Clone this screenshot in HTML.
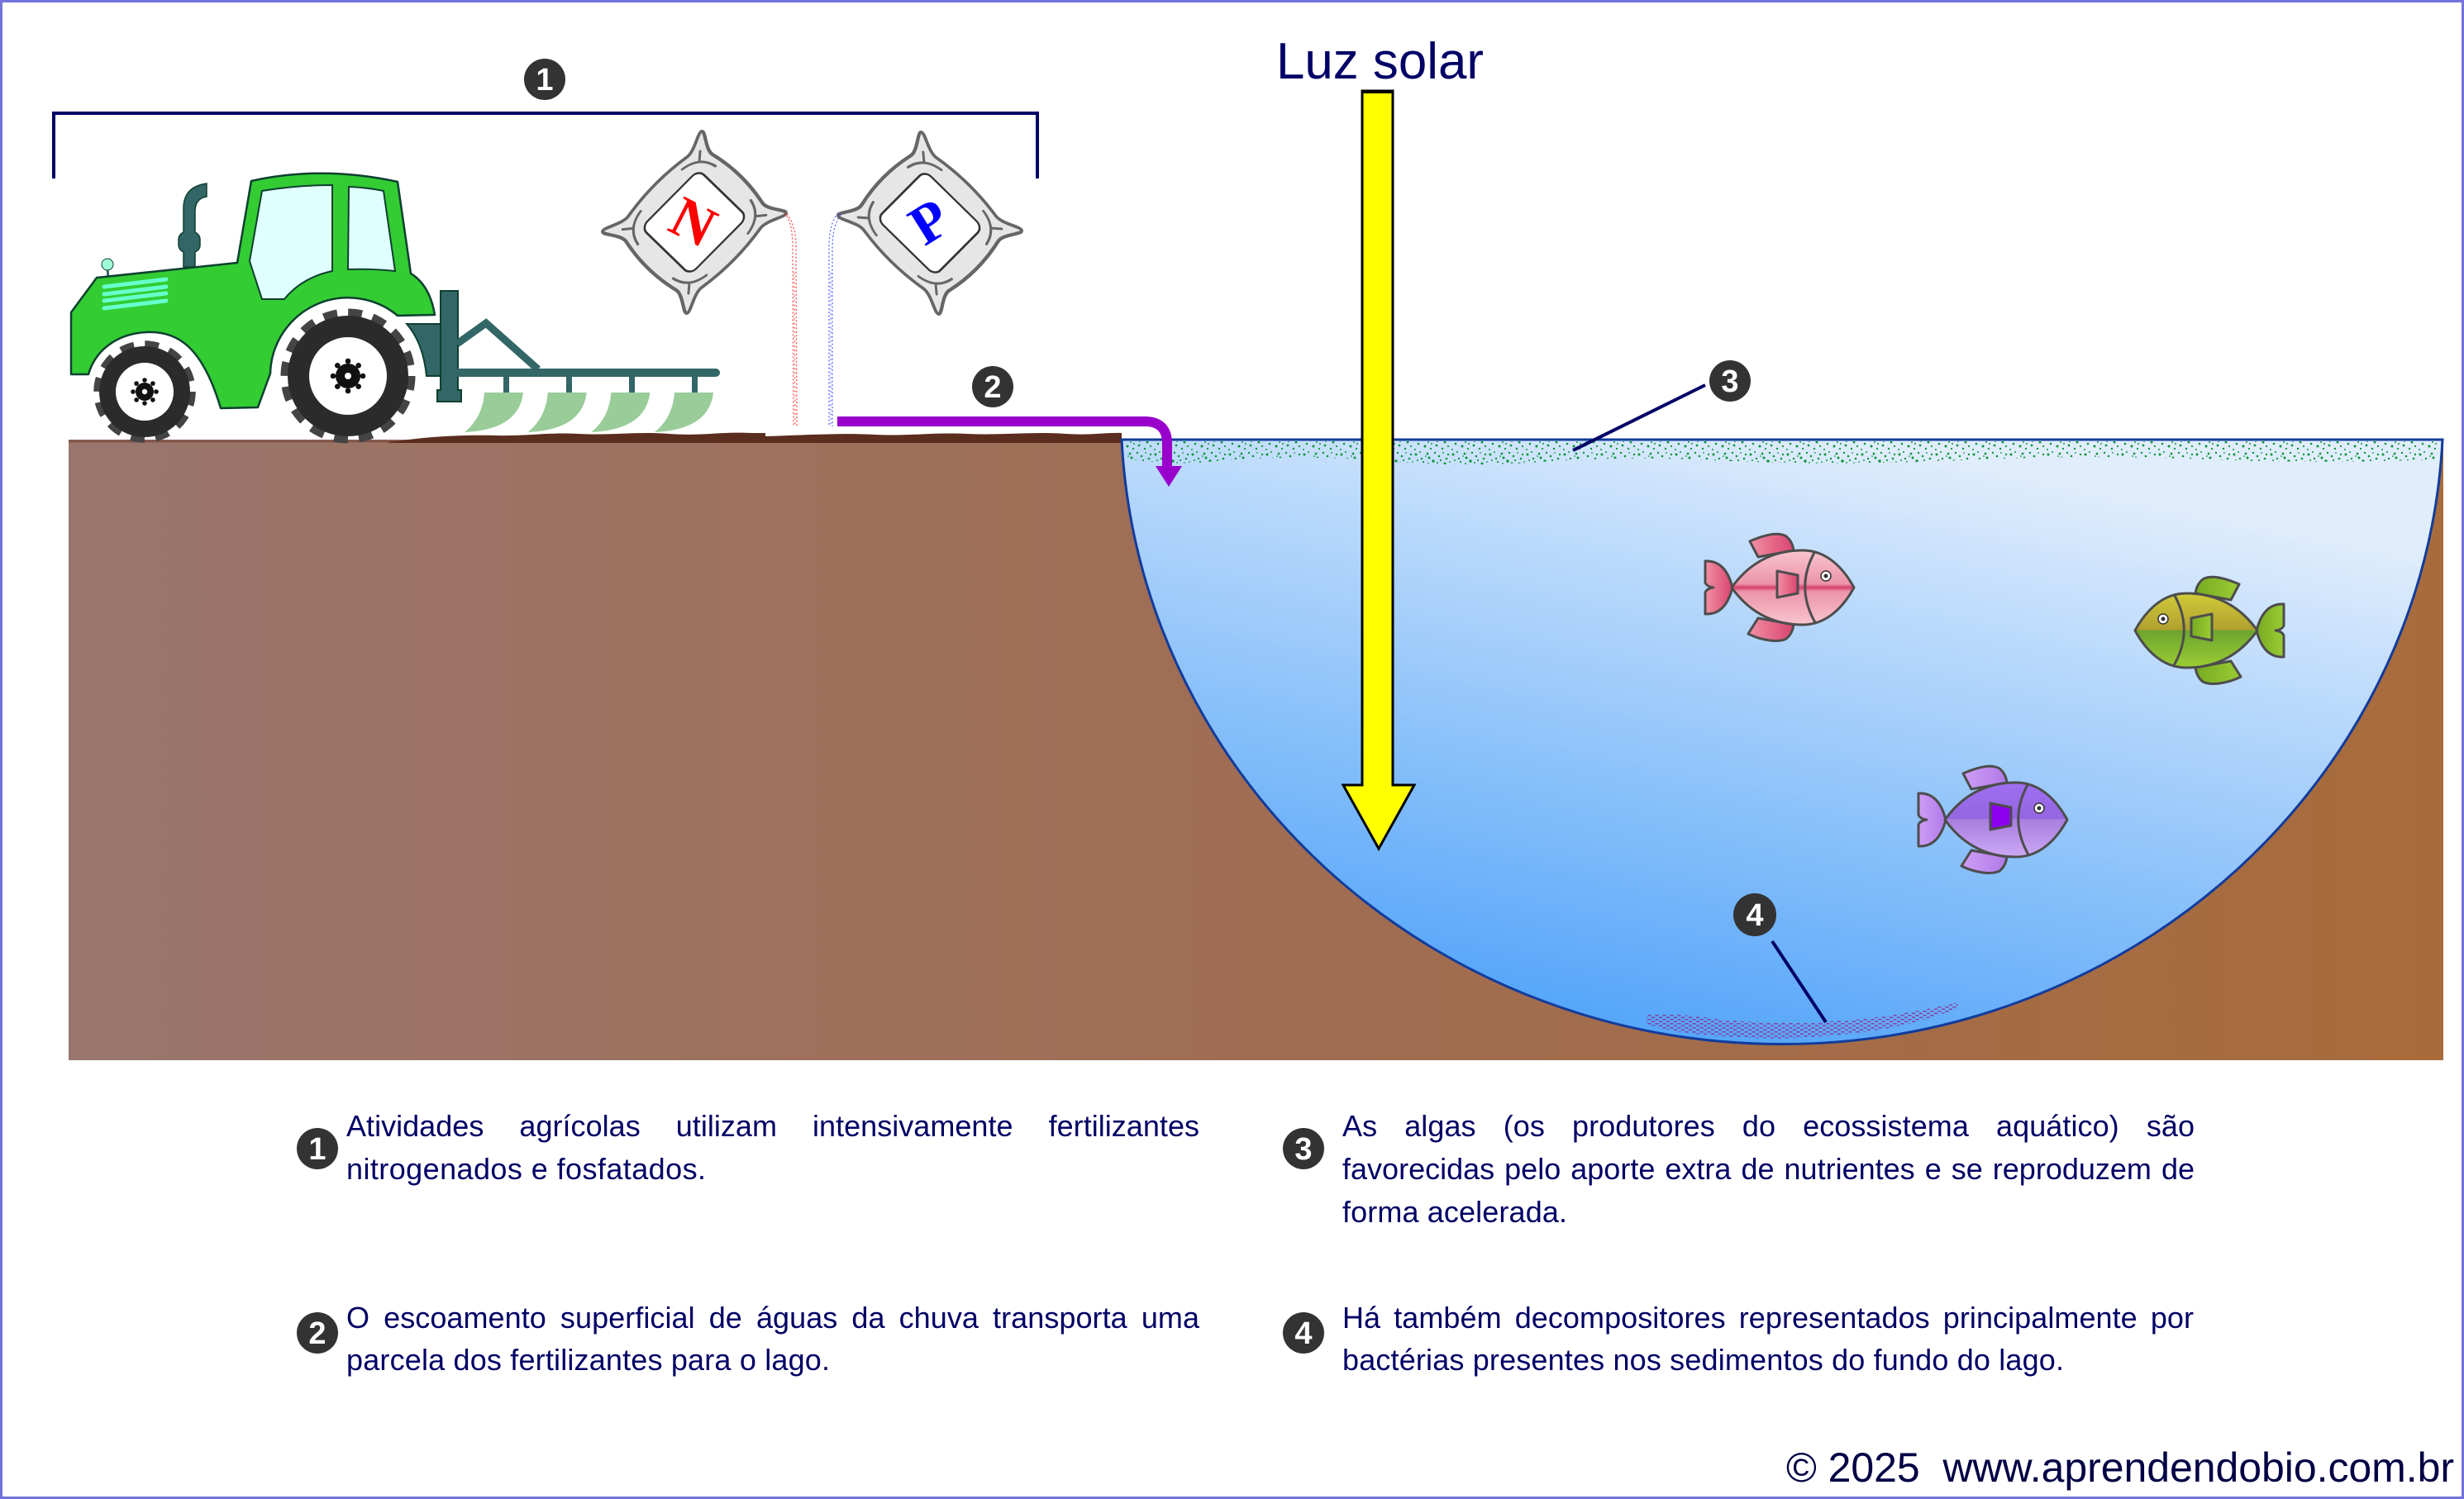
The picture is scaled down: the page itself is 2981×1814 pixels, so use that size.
<!DOCTYPE html>
<html><head><meta charset="utf-8">
<style>
html,body{margin:0;padding:0;background:#fff;}
body{width:2981px;height:1814px;overflow:hidden;}
svg{display:block;}
.t{font-family:"Liberation Sans",Arial,sans-serif;font-size:36px;fill:#000066;}
.num{font-family:"Liberation Sans",Arial,sans-serif;font-weight:bold;font-size:38px;fill:#fff;text-anchor:middle;}
</style></head>
<body>
<svg width="2981" height="1814" viewBox="0 0 2981 1814" xmlns="http://www.w3.org/2000/svg">
<defs>
  <linearGradient id="ground" x1="0" y1="0" x2="1" y2="0">
    <stop offset="0" stop-color="#9a766d"/>
    <stop offset="0.5" stop-color="#a06d53"/>
    <stop offset="1" stop-color="#a86c3c"/>
  </linearGradient>
  <linearGradient id="water" gradientUnits="userSpaceOnUse" x1="2100" y1="1265" x2="2250" y2="530">
    <stop offset="0" stop-color="#56a6f9"/>
    <stop offset="1" stop-color="#e0edfc"/>
  </linearGradient>
  <pattern id="alg" width="45" height="26" patternUnits="userSpaceOnUse">
    <g fill="#0a9636">
      <circle cx="3" cy="4" r="1.5"/><circle cx="10" cy="9" r="1.2"/><circle cx="17" cy="3" r="1.4"/>
      <circle cx="24" cy="12" r="1.7"/><circle cx="31" cy="6" r="1.3"/><circle cx="38" cy="15" r="1.5"/>
      <circle cx="6" cy="17" r="1.3"/><circle cx="14" cy="20" r="1.5"/><circle cx="21" cy="23" r="1.1"/>
      <circle cx="28" cy="19" r="1.4"/><circle cx="35" cy="23" r="1.2"/><circle cx="2" cy="24" r="1"/>
      <circle cx="12" cy="13" r="1.1"/><circle cx="19" cy="8" r="1.5"/><circle cx="26" cy="2" r="1.2"/>
      <circle cx="33" cy="11" r="1.1"/><circle cx="8" cy="1" r="1"/><circle cx="42" cy="4" r="1.2"/>
      <circle cx="22" cy="17" r="1"/><circle cx="42" cy="20" r="1.1"/><circle cx="40" cy="9" r="1.3"/>
      <circle cx="15" cy="6" r="0.9"/><circle cx="29" cy="14" r="1"/><circle cx="5" cy="11" r="1"/>
      <circle cx="36" cy="2" r="0.9"/><circle cx="44" cy="13" r="0.9"/><circle cx="18" cy="15" r="1"/>
    </g>
  </pattern>
  <pattern id="bac" width="9" height="5" patternUnits="userSpaceOnUse">
    <rect x="0" y="0.5" width="4" height="1.6" fill="#8b2f8f"/>
    <rect x="4.5" y="3" width="4" height="1.6" fill="#8b2f8f"/>
  </pattern>
  <linearGradient id="pbody" x1="0" y1="0" x2="0" y2="1">
    <stop offset="0" stop-color="#fac5d0"/><stop offset="0.45" stop-color="#eb93a9"/>
    <stop offset="0.5" stop-color="#d63e6d"/><stop offset="0.55" stop-color="#eb93a9"/>
    <stop offset="1" stop-color="#fac5d0"/>
  </linearGradient>
  <linearGradient id="pfin" x1="0" y1="0" x2="1" y2="0">
    <stop offset="0" stop-color="#f290a4"/><stop offset="1" stop-color="#d94470"/>
  </linearGradient>
  <linearGradient id="gbody" x1="0" y1="0" x2="0" y2="1">
    <stop offset="0" stop-color="#d2cc38"/><stop offset="0.49" stop-color="#b0a030"/>
    <stop offset="0.5" stop-color="#6ea52e"/><stop offset="1" stop-color="#9acd33"/>
  </linearGradient>
  <linearGradient id="gfin" x1="0" y1="0" x2="1" y2="0">
    <stop offset="0" stop-color="#9acd33"/><stop offset="1" stop-color="#77aa22"/>
  </linearGradient>
  <linearGradient id="ubody" x1="0" y1="0" x2="0" y2="1">
    <stop offset="0" stop-color="#9f6ff2"/><stop offset="0.48" stop-color="#9466e0"/>
    <stop offset="0.5" stop-color="#a87ee0"/><stop offset="1" stop-color="#cca8f4"/>
  </linearGradient>
  <linearGradient id="ufin" x1="0" y1="0" x2="1" y2="0">
    <stop offset="0" stop-color="#cf9ef6"/><stop offset="1" stop-color="#b07ae8"/>
  </linearGradient>
</defs>

<!-- border -->
<rect x="1.5" y="1.5" width="2978" height="1811" fill="#fff" stroke="#7373d9" stroke-width="3"/>

<!-- ground -->
<rect x="83" y="532" width="2873" height="751" fill="url(#ground)"/>
<line x1="83" y1="534" x2="480" y2="534" stroke="#83574a" stroke-width="3"/>
<path d="M 470,535 C 520,528 560,526 600,527 C 640,528 660,523 700,525 C 740,527 770,522 810,525 C 850,528 870,522 910,524 L 926,524 L 926,528 C 980,526 1020,524 1060,526 C 1100,528 1130,523 1170,525 C 1210,527 1250,522 1290,525 C 1320,527 1340,523 1357,524 L 1357,536 L 470,536 Z" fill="#5a2d1e"/>

<!-- water -->
<path d="M 1357,532 A 800 770 0 0 0 2955,532 Z" fill="url(#water)" stroke="#123c9c" stroke-width="3"/>
<line x1="1357" y1="532" x2="2955" y2="532" stroke="#123c9c" stroke-width="3"/>
<!-- algae -->
<path d="M 1362,534 L 2950,534 L 2950,556 Q 2800,562 2650,555 Q 2500,550 2350,558 Q 2200,564 2050,556 Q 1950,552 1850,560 Q 1750,566 1650,556 Q 1550,550 1450,560 Q 1400,562 1362,555 Z" fill="url(#alg)"/>
<!-- bacteria -->
<path d="M 1992,1228 Q 2040,1226 2080,1234 Q 2150,1240 2220,1236 Q 2300,1230 2368,1213 L 2370,1220 Q 2320,1238 2280,1245 Q 2220,1255 2150,1257 Q 2080,1255 2040,1250 Q 2000,1244 1992,1238 Z" fill="url(#bac)" opacity="0.85"/>

<!-- fish pink -->
<g transform="translate(2153,711)" stroke="#4d4d4d" stroke-width="3" stroke-linejoin="round">
  <path d="M -57,0 C -62,-20 -72,-33 -90,-32 L -90,-6 Q -88,-1 -80,0 Q -88,1 -90,6 L -90,32 C -72,33 -62,20 -57,0 Z" fill="url(#pfin)"/>
  <path d="M -26,-37 L -36,-56 C -20,-63 -2,-68 8,-62 C 13,-58 16,-52 17,-45 Z" fill="url(#pfin)"/>
  <path d="M -26,37 L -38,56 C -22,64 -2,67 8,62 C 13,58 16,52 17,45 Z" fill="url(#pfin)"/>
  <path d="M -58,0 C -38,-28 -10,-45 28,-45 C 58,-45 78,-22 90,0 C 78,22 58,45 28,45 C -10,45 -38,28 -58,0 Z" fill="url(#pbody)"/>
  <path d="M 43,-44 Q 18,0 44,44" fill="none"/>
  <path d="M -3,-20 L 22,-15 L 22,7 L -3,12 Z" fill="url(#pfin)"/>
  <circle cx="56" cy="-14" r="6" fill="#fff" stroke="#333" stroke-width="1.5"/>
  <circle cx="56" cy="-14" r="2.5" fill="#333" stroke="none"/>
</g>
<!-- fish green (facing left) -->
<g transform="translate(2673,763) scale(-1,1)" stroke="#4d4d4d" stroke-width="3" stroke-linejoin="round">
  <path d="M -57,0 C -62,-20 -72,-33 -90,-32 L -90,-6 Q -88,-1 -80,0 Q -88,1 -90,6 L -90,32 C -72,33 -62,20 -57,0 Z" fill="url(#gfin)"/>
  <path d="M -26,-37 L -36,-56 C -20,-63 -2,-68 8,-62 C 13,-58 16,-52 17,-45 Z" fill="url(#gfin)"/>
  <path d="M -26,37 L -38,56 C -22,64 -2,67 8,62 C 13,58 16,52 17,45 Z" fill="url(#gfin)"/>
  <path d="M -58,0 C -38,-28 -10,-45 28,-45 C 58,-45 78,-22 90,0 C 78,22 58,45 28,45 C -10,45 -38,28 -58,0 Z" fill="url(#gbody)"/>
  <path d="M 43,-44 Q 18,0 44,44" fill="none"/>
  <path d="M -3,-20 L 22,-15 L 22,7 L -3,12 Z" fill="url(#gfin)"/>
  <circle cx="56" cy="-14" r="6" fill="#fff" stroke="#333" stroke-width="1.5"/>
  <circle cx="56" cy="-14" r="2.5" fill="#333" stroke="none"/>
</g>
<!-- fish purple -->
<g transform="translate(2411,992)" stroke="#4d4d4d" stroke-width="3" stroke-linejoin="round">
  <path d="M -57,0 C -62,-20 -72,-33 -90,-32 L -90,-6 Q -88,-1 -80,0 Q -88,1 -90,6 L -90,32 C -72,33 -62,20 -57,0 Z" fill="url(#ufin)"/>
  <path d="M -26,-37 L -36,-56 C -20,-63 -2,-68 8,-62 C 13,-58 16,-52 17,-45 Z" fill="url(#ufin)"/>
  <path d="M -26,37 L -38,56 C -22,64 -2,67 8,62 C 13,58 16,52 17,45 Z" fill="url(#ufin)"/>
  <path d="M -58,0 C -38,-28 -10,-45 28,-45 C 58,-45 78,-22 90,0 C 78,22 58,45 28,45 C -10,45 -38,28 -58,0 Z" fill="url(#ubody)"/>
  <path d="M 43,-44 Q 18,0 44,44" fill="none"/>
  <path d="M -3,-20 L 22,-15 L 22,7 L -3,12 Z" fill="#8a00ee"/>
  <circle cx="56" cy="-14" r="6" fill="#fff" stroke="#333" stroke-width="1.5"/>
  <circle cx="56" cy="-14" r="2.5" fill="#333" stroke="none"/>
</g>

<!-- sunlight arrow -->
<path d="M 1648,110 L 1685,110 L 1685,950 L 1711,950 L 1668,1027 L 1625,950 L 1648,950 Z" fill="#ffff00" stroke="#000" stroke-width="3" stroke-linejoin="miter"/>
<line x1="1647" y1="111" x2="1686" y2="111" stroke="#000" stroke-width="4"/>
<text x="1544" y="95" font-family="Liberation Sans, Arial, sans-serif" font-size="62" fill="#000066" textLength="251" lengthAdjust="spacingAndGlyphs">Luz solar</text>

<!-- runoff arrow -->
<path d="M 1013,510 L 1385,510 Q 1412,510 1412,537 L 1412,566" fill="none" stroke="#9900cc" stroke-width="12"/>
<polygon points="1398,564 1430,564 1414,589" fill="#9900cc"/>

<!-- leader lines -->
<line x1="2063" y1="466" x2="1903" y2="545" stroke="#000066" stroke-width="4"/>
<line x1="2144" y1="1139" x2="2209" y2="1237" stroke="#000066" stroke-width="4"/>

<!-- bracket -->
<path d="M 65,216 L 65,137 L 1255,137 L 1255,216" fill="none" stroke="#000066" stroke-width="4"/>

<!-- markers -->
<circle cx="659" cy="96" r="25" fill="#333"/><text class="num" x="659" y="109">1</text>
<circle cx="1201" cy="468" r="25" fill="#333"/><text class="num" x="1201" y="481">2</text>
<circle cx="2093" cy="461" r="25" fill="#333"/><text class="num" x="2093" y="474">3</text>
<circle cx="2123" cy="1107" r="26" fill="#333"/><text class="num" x="2123" y="1120">4</text>

<!-- plough / hitch -->
<g fill="#336666" stroke="#0d4030" stroke-width="2">
  <path d="M 492,392 L 533,392 L 533,455 L 516,455 Q 512,415 492,392 Z"/>
  <polygon points="533,352 554,352 554,472 558,472 558,486 529,486 529,472 533,472"/>
</g>
<polyline points="553,416 588,391 651,447" fill="none" stroke="#336666" stroke-width="9"/>
<line x1="554" y1="451" x2="866" y2="451" stroke="#336666" stroke-width="10" stroke-linecap="round"/>
<g fill="#336666">
  <rect x="609" y="455" width="7" height="21"/><rect x="685" y="455" width="7" height="21"/>
  <rect x="761" y="455" width="7" height="21"/><rect x="837" y="455" width="7" height="21"/>
</g>
<g fill="#99cc99">
  <path d="M 586,475 L 633,475 Q 628,520 562,523 Q 584,505 586,475 Z"/>
  <path d="M 586,475 L 633,475 Q 628,520 562,523 Q 584,505 586,475 Z" transform="translate(76.7,0)"/>
  <path d="M 586,475 L 633,475 Q 628,520 562,523 Q 584,505 586,475 Z" transform="translate(153.3,0)"/>
  <path d="M 586,475 L 633,475 Q 628,520 562,523 Q 584,505 586,475 Z" transform="translate(230,0)"/>
</g>

<!-- tractor -->
<path d="M 222,323 L 222,305 Q 216,302 216,296 L 216,290 Q 216,284 222,281 L 222,252 Q 222,226 250,222 L 250,238 Q 236,240 236,256 L 236,281 Q 242,284 242,290 L 242,297 Q 242,302 236,305 L 236,323 Z" fill="#336666" stroke="#0d4030" stroke-width="1.5"/>
<line x1="130" y1="326" x2="131" y2="335" stroke="#336666" stroke-width="3"/>
<circle cx="130" cy="320" r="7" fill="#9fffd8" stroke="#0d4030" stroke-width="1"/>
<path d="M 86,453 L 86,378 L 117,336 L 287,318 L 304,219 Q 390,200 481,220 L 497,331 Q 520,345 526,381 L 481,382 A 94 94 0 0 0 327,452 L 312,493 L 267,494 C 245,420 215,400 177,402 C 140,404 115,425 107,453 Z" fill="#33cc33" stroke="#0d4030" stroke-width="2.5" stroke-linejoin="round"/>
<path d="M 317,231 Q 360,224 402,224 L 402,328 Q 365,336 344,362 L 317,362 L 302,316 Z" fill="#e0ffff" stroke="#0d4030" stroke-width="2"/>
<path d="M 422,226 Q 445,227 464,231 L 478,328 Q 450,325 421,326 Z" fill="#e0ffff" stroke="#0d4030" stroke-width="2"/>
<g stroke="#66ffcc" stroke-width="5" stroke-linecap="round">
  <line x1="126" y1="347" x2="201" y2="338"/><line x1="126" y1="356" x2="201" y2="347"/>
  <line x1="126" y1="364" x2="201" y2="355"/><line x1="126" y1="373" x2="201" y2="364"/>
</g>
<!-- rear wheel -->
<g transform="translate(421,455)">
  <circle r="77" fill="none" stroke="#444" stroke-width="9" stroke-dasharray="17 13.24"/>
  <circle r="73" fill="#2b2b2b"/>
  <circle r="47" fill="#fff"/>
  <circle r="15" fill="#111"/>
  <g fill="#111">
    <circle cx="18" cy="0" r="3.3"/><circle cx="-18" cy="0" r="3.3"/><circle cx="0" cy="18" r="3.3"/><circle cx="0" cy="-18" r="3.3"/>
    <circle cx="12.7" cy="12.7" r="3.3"/><circle cx="-12.7" cy="12.7" r="3.3"/><circle cx="12.7" cy="-12.7" r="3.3"/><circle cx="-12.7" cy="-12.7" r="3.3"/>
  </g>
  <circle r="4" fill="#fff"/>
</g>
<!-- front wheel -->
<g transform="translate(175,474)">
  <circle r="58" fill="none" stroke="#444" stroke-width="7.5" stroke-dasharray="17 13.37"/>
  <circle r="55" fill="#2b2b2b"/>
  <circle r="35" fill="#fff"/>
  <circle r="11" fill="#111"/>
  <g fill="#111">
    <circle cx="14" cy="0" r="2.8"/><circle cx="-14" cy="0" r="2.8"/><circle cx="0" cy="14" r="2.8"/><circle cx="0" cy="-14" r="2.8"/>
    <circle cx="9.9" cy="9.9" r="2.8"/><circle cx="-9.9" cy="9.9" r="2.8"/><circle cx="9.9" cy="-9.9" r="2.8"/><circle cx="-9.9" cy="-9.9" r="2.8"/>
  </g>
  <circle r="3.2" fill="#fff"/>
</g>

<!-- fertilizer bags -->
<g transform="matrix(1.009,-0.1,-0.082,1.0,840,269)">
  <path d="M -16,-80 C -6,-86 -5,-110 0,-110 C 5,-110 6,-86 16,-80 Q 54,-54 80,-16 C 86,-6 110,-5 110,0 C 110,5 86,6 80,16 Q 54,54 16,80 C 6,86 5,110 0,110 C -5,110 -6,86 -16,80 Q -54,54 -80,16 C -86,6 -110,5 -110,0 C -110,-5 -86,-6 -80,-16 Q -54,-54 -16,-80 Z" fill="#e6e6e6" stroke="#666" stroke-width="4"/>
  <rect x="-45" y="-45" width="90" height="90" rx="10" transform="rotate(45)" fill="#fff" stroke="#333" stroke-width="2.5"/>
  <g stroke="#666" stroke-width="3" fill="none" stroke-linecap="round">
    <path d="M -20,-66 Q 0,-80 20,-66 M 0,-73 L 0,-86"/>
    <path d="M -20,-66 Q 0,-80 20,-66 M 0,-73 L 0,-86" transform="rotate(90)"/>
    <path d="M -20,-66 Q 0,-80 20,-66 M 0,-73 L 0,-86" transform="rotate(180)"/>
    <path d="M -20,-66 Q 0,-80 20,-66 M 0,-73 L 0,-86" transform="rotate(270)"/>
  </g>
</g>
<text transform="translate(839,268) rotate(27)" x="0" y="24" text-anchor="middle" font-family="Liberation Serif, serif" font-weight="bold" font-size="70" fill="#ff0000">N</text>
<g transform="matrix(1.009,0.082,0.095,1.0,1125,270)">
  <path d="M -16,-80 C -6,-86 -5,-110 0,-110 C 5,-110 6,-86 16,-80 Q 54,-54 80,-16 C 86,-6 110,-5 110,0 C 110,5 86,6 80,16 Q 54,54 16,80 C 6,86 5,110 0,110 C -5,110 -6,86 -16,80 Q -54,54 -80,16 C -86,6 -110,5 -110,0 C -110,-5 -86,-6 -80,-16 Q -54,-54 -16,-80 Z" fill="#e6e6e6" stroke="#666" stroke-width="4"/>
  <rect x="-45" y="-45" width="90" height="90" rx="10" transform="rotate(45)" fill="#fff" stroke="#333" stroke-width="2.5"/>
  <g stroke="#666" stroke-width="3" fill="none" stroke-linecap="round">
    <path d="M -20,-66 Q 0,-80 20,-66 M 0,-73 L 0,-86"/>
    <path d="M -20,-66 Q 0,-80 20,-66 M 0,-73 L 0,-86" transform="rotate(90)"/>
    <path d="M -20,-66 Q 0,-80 20,-66 M 0,-73 L 0,-86" transform="rotate(180)"/>
    <path d="M -20,-66 Q 0,-80 20,-66 M 0,-73 L 0,-86" transform="rotate(270)"/>
  </g>
</g>
<text transform="translate(1124,268) rotate(-32)" x="0" y="23" text-anchor="middle" font-family="Liberation Serif, serif" font-weight="bold" font-size="68" fill="#0000ff">P</text>

<!-- falling fertilizer -->
<g stroke="#ff2222" stroke-width="1.4" fill="none" stroke-dasharray="2 2.5" opacity="0.75">
  <path d="M 949,258 Q 959,268 959,300 L 960,515"/>
  <path d="M 952,259 Q 963,272 963,300 L 964,515"/>
  <path d="M 961,330 L 962,515" stroke-dasharray="1.5 4"/>
</g>
<g stroke="#3344ff" stroke-width="1.4" fill="none" stroke-dasharray="2 2.5" opacity="0.75">
  <path d="M 1014,258 Q 1003,270 1003,300 L 1003,516"/>
  <path d="M 1017,260 Q 1007,273 1007,300 L 1007,516"/>
  <path d="M 1005,330 L 1005,516" stroke-dasharray="1.5 4"/>
</g>

<!-- legend -->
<circle cx="384" cy="1390" r="25" fill="#333"/><text class="num" x="384" y="1403">1</text>
<circle cx="384" cy="1613" r="25" fill="#333"/><text class="num" x="384" y="1626">2</text>
<circle cx="1577" cy="1390" r="25" fill="#333"/><text class="num" x="1577" y="1403">3</text>
<circle cx="1577" cy="1613" r="25" fill="#333"/><text class="num" x="1577" y="1626">4</text>

<text class="t" x="419" y="1375" word-spacing="33" textLength="1032" lengthAdjust="spacing">Atividades agrícolas utilizam intensivamente fertilizantes</text>
<text class="t" x="419" y="1427" textLength="435" lengthAdjust="spacing">nitrogenados e fosfatados.</text>
<text class="t" x="419" y="1607" word-spacing="7" textLength="1032" lengthAdjust="spacing">O escoamento superficial de águas da chuva transporta uma</text>
<text class="t" x="419" y="1658" textLength="585" lengthAdjust="spacing">parcela dos fertilizantes para o lago.</text>

<text class="t" x="1624" y="1375" word-spacing="23" textLength="1031" lengthAdjust="spacing">As algas (os produtores do ecossistema aquático) são</text>
<text class="t" x="1624" y="1427" word-spacing="2" textLength="1031" lengthAdjust="spacing">favorecidas pelo aporte extra de nutrientes e se reproduzem de</text>
<text class="t" x="1624" y="1479" textLength="272" lengthAdjust="spacing">forma acelerada.</text>
<text class="t" x="1624" y="1607" word-spacing="6" textLength="1030" lengthAdjust="spacing">Há também decompositores representados principalmente por</text>
<text class="t" x="1624" y="1658" textLength="873" lengthAdjust="spacing">bactérias presentes nos sedimentos do fundo do lago.</text>

<text x="2161" y="1793" font-family="Liberation Sans, Arial, sans-serif" font-size="50" fill="#000044" textLength="808" lengthAdjust="spacing">© 2025&#160; www.aprendendobio.com.br</text>
</svg>
</body></html>
